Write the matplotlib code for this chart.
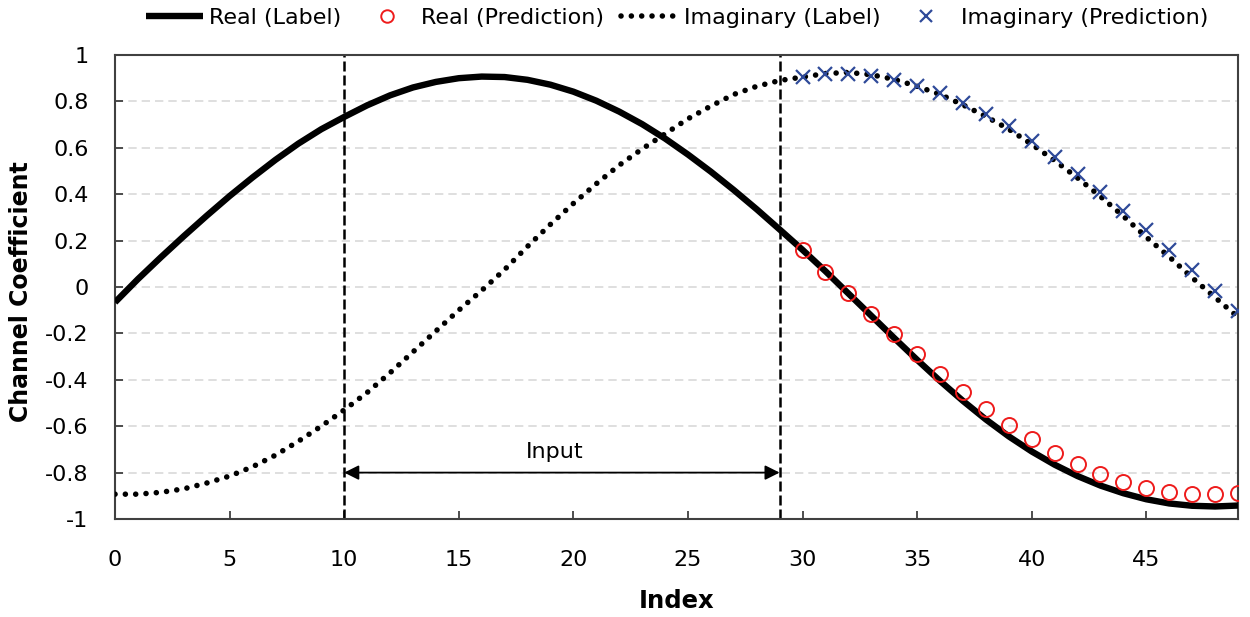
import matplotlib
matplotlib.use('Agg')
import matplotlib.pyplot as plt
from matplotlib.lines import Line2D

# ---------------- data ----------------
index = list(range(50))
real_label = [-0.066, 0.034, 0.128, 0.219, 0.307, 0.392, 0.472, 0.548, 0.618, 0.680,
              0.733, 0.783, 0.826, 0.860, 0.884, 0.900, 0.907, 0.905, 0.893, 0.872,
              0.842, 0.803, 0.756, 0.702, 0.640, 0.571, 0.497, 0.418, 0.335, 0.248,
              0.160, 0.068, -0.028, -0.124, -0.220, -0.314, -0.405, -0.491, -0.571, -0.644,
              -0.709, -0.766, -0.815, -0.856, -0.889, -0.915, -0.933, -0.943, -0.946, -0.942]
imag_label = [-0.893, -0.893, -0.885, -0.87, -0.845, -0.815, -0.775, -0.725, -0.665, -0.60,
              -0.53, -0.455, -0.37, -0.28, -0.19, -0.10, -0.015, 0.075, 0.175, 0.27,
              0.36, 0.445, 0.525, 0.595, 0.66, 0.725, 0.78, 0.83, 0.865, 0.89,
              0.905, 0.92, 0.925, 0.915, 0.895, 0.865, 0.83, 0.785, 0.735, 0.68,
              0.615, 0.545, 0.47, 0.39, 0.305, 0.215, 0.13, 0.04, -0.045, -0.13]
pred_index = list(range(30, 50))
real_pred = [0.158, 0.065, -0.026, -0.115, -0.204, -0.290, -0.373, -0.452, -0.527, -0.596,
             -0.657, -0.715, -0.764, -0.805, -0.841, -0.868, -0.884, -0.894, -0.894, -0.886]
imag_pred = [0.904, 0.916, 0.919, 0.910, 0.893, 0.868, 0.835, 0.792, 0.747, 0.692,
             0.629, 0.560, 0.485, 0.409, 0.327, 0.244, 0.158, 0.072, -0.017, -0.103]
x_ticks = [0, 5, 10, 15, 20, 25, 30, 35, 40, 45]
x_tick_labels = ['0', '5', '10', '15', '20', '25', '30', '35', '40', '45']
y_ticks = [-1, -0.8, -0.6, -0.4, -0.2, 0, 0.2, 0.4, 0.6, 0.8, 1]
y_tick_labels = ['-1', '-0.8', '-0.6', '-0.4', '-0.2', '0', '0.2', '0.4', '0.6', '0.8', '1']
input_start, input_end = 10, 29
input_arrow_y = -0.8
legend_labels = ['Real (Label)', 'Real (Prediction)', 'Imaginary (Label)', 'Imaginary (Prediction)']

# ---------------- style ----------------
plt.rcParams['font.family'] = ['DejaVu Sans']
RED = '#EE1C1C'
BLUE = '#2F4A99'
FRAME = '#404040'
dot_style = (0, (0.01, 1.85))

fig = plt.figure(figsize=(12.5, 6.17), dpi=100)
ax = fig.add_axes([115 / 1250, 1 - 519 / 617, (1238 - 115) / 1250, (519 - 55) / 617])

ax.grid(axis='y', color='#D9D9D9', linestyle=(0, (5, 3)), linewidth=1.2, zorder=0)
ax.set_axisbelow(True)

ax.plot(index, real_label, color='black', lw=4.6, solid_capstyle='butt', zorder=3)
ax.plot(index, imag_label, color='black', lw=4.0, linestyle=dot_style,
        dash_capstyle='round', zorder=3)
ax.plot(pred_index, real_pred, ls='none', marker='o', ms=10.8, mfc='none',
        mec=RED, mew=1.4, zorder=4)
ax.plot(pred_index, imag_pred, ls='none', marker='x', ms=10.5, mec=BLUE,
        mew=1.6, zorder=4)

for xv in (input_start, input_end):
    ax.axvline(xv, color='black', lw=1.8, ls=(0, (4, 1.6)), zorder=2)

ax.annotate('', xy=(input_start, input_arrow_y), xytext=(input_end, input_arrow_y),
            arrowprops=dict(arrowstyle='<|-|>', color='black', lw=1.3,
                            mutation_scale=22, shrinkA=0, shrinkB=0), zorder=5)
ax.text(19.2, -0.71, 'Input', ha='center', va='center', fontsize=16)

ax.set_xlim(0, 49)
ax.set_ylim(-1, 1)
ax.set_xticks(x_ticks)
ax.set_xticklabels(x_tick_labels)
ax.set_yticks(y_ticks)
ax.set_yticklabels(y_tick_labels)
ax.tick_params(axis='both', direction='in', length=6, width=1.3, color=FRAME,
               labelsize=16)
ax.tick_params(axis='x', pad=22)
ax.tick_params(axis='y', pad=19)
for s in ax.spines.values():
    s.set_color(FRAME)
    s.set_linewidth(1.5)

ax.set_xlabel('Index', fontsize=17.5, fontweight='bold', labelpad=14)
ax.set_ylabel('Channel Coefficient', fontsize=17, fontweight='bold')
ax.yaxis.set_label_coords((33 - 115) / 1123, 0.49)

handles = [
    Line2D([], [], color='black', lw=4.6, solid_capstyle='butt'),
    Line2D([], [], ls='none', marker='o', ms=9, mfc='none', mec=RED, mew=1.4),
    Line2D([], [], color='black', lw=4.0, linestyle=dot_style, dash_capstyle='round'),
    Line2D([], [], ls='none', marker='x', ms=9, mec=BLUE, mew=1.6),
]
fig.legend(handles, legend_labels, loc='center', bbox_to_anchor=(677 / 1250, 1 - 18 / 617),
           ncol=4, frameon=False, fontsize=16, handlelength=2.6, handletextpad=0.25,
           columnspacing=0.75, borderaxespad=0)

fig.savefig('out.png', dpi=100)
